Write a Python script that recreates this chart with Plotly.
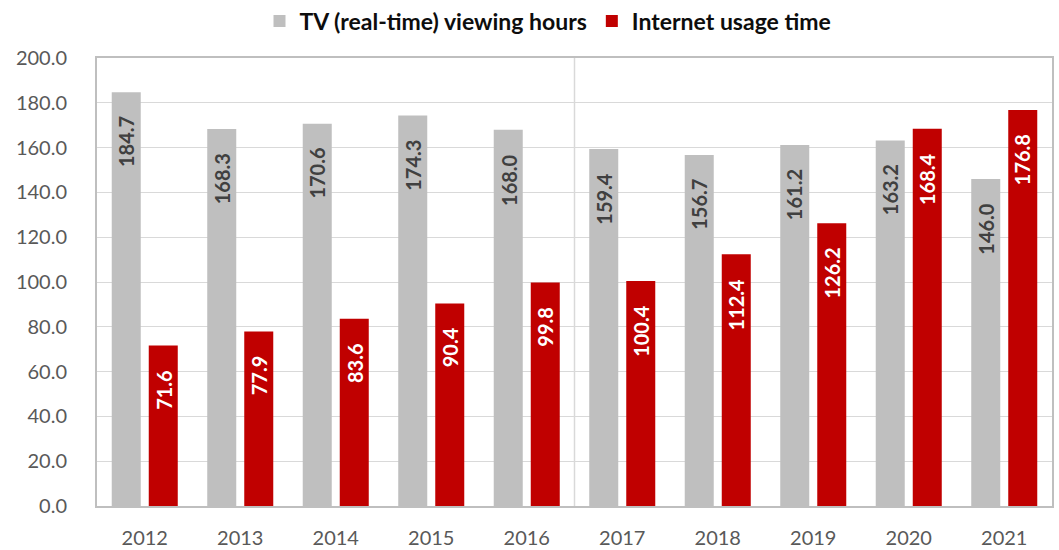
import plotly.graph_objects as go

years = ["2012", "2013", "2014", "2015", "2016", "2017", "2018", "2019", "2020", "2021"]
tv_hours = [184.7, 168.3, 170.6, 174.3, 168.0, 159.4, 156.7, 161.2, 163.2, 146.0]
internet_hours = [71.6, 77.9, 83.6, 90.4, 99.8, 100.4, 112.4, 126.2, 168.4, 176.8]

FONT = "Lato, 'Open Sans', sans-serif"
W, H = 1059, 550
ML, MR, MT, MB = 97, 7, 58, 44
BARGAP, GROUPGAP = 0.225, 0.216

fig = go.Figure()
fig.add_trace(go.Bar(
    x=years, y=tv_hours, name="TV (real-time) viewing hours",
    marker=dict(color="#BFBFBF", line=dict(width=0)), hoverinfo="x+y",
))
fig.add_trace(go.Bar(
    x=years, y=internet_hours, name="Internet usage time",
    marker=dict(color="#C00000", line=dict(width=0)), hoverinfo="x+y",
))

# value labels: rotated, inside the top of each bar (x = category index)
cat_px = (W - ML - MR) / len(years)
slot_px = cat_px * (1 - BARGAP) / 2
for series, sign, color in ((tv_hours, -1, "#404040"), (internet_hours, 1, "#FFFFFF")):
    for i, v in enumerate(series):
        fig.add_annotation(
            x=i, y=v, xref="x", yref="y", text=f"{v:.1f}", showarrow=False,
            textangle=-90, xanchor="center", yanchor="top",
            xshift=sign * slot_px / 2, yshift=-22,
            font=dict(family=FONT, size=20, color=color, weight="bold"),
        )

fig.add_shape(type="line", xref="x", yref="paper", x0=4.5, x1=4.5, y0=0, y1=1,
              line=dict(color="#D9D9D9", width=1.5), layer="below")

fig.update_layout(
    width=W, height=H,
    margin=dict(l=ML, r=MR, t=MT, b=MB, autoexpand=False),
    paper_bgcolor="white", plot_bgcolor="white",
    barmode="group", bargap=BARGAP, bargroupgap=GROUPGAP,
    font=dict(family=FONT, color="#595959"),
    showlegend=True,
    legend=dict(orientation="h", xref="container", x=548 / W, xanchor="center",
                yref="container", y=1 - 21 / H, yanchor="middle",
                font=dict(family=FONT, size=23, color="#0D0D0D", weight="bold"),
                itemwidth=30, bgcolor="rgba(0,0,0,0)"),
)

fig.update_yaxes(range=[0, 200], dtick=20, tickformat=".1f",
                 showgrid=True, gridcolor="#D9D9D9", gridwidth=1,
                 showline=True, mirror=True, linecolor="#BFBFBF", linewidth=2,
                 tickfont=dict(family=FONT, size=20, color="#595959"),
                 ticks="", ticklabelstandoff=24, zeroline=False, automargin=False)
fig.update_xaxes(type="category", categoryorder="array", categoryarray=years,
                 range=[-0.5, len(years) - 0.5],
                 showgrid=False, showline=True, mirror=True, linecolor="#BFBFBF", linewidth=2,
                 tickfont=dict(family=FONT, size=20, color="#595959"),
                 ticks="", ticklabelstandoff=13, automargin=False)

fig.write_html("out.html", config={"displayModeBar": False},
               post_script="document.body.style.margin='0';")
